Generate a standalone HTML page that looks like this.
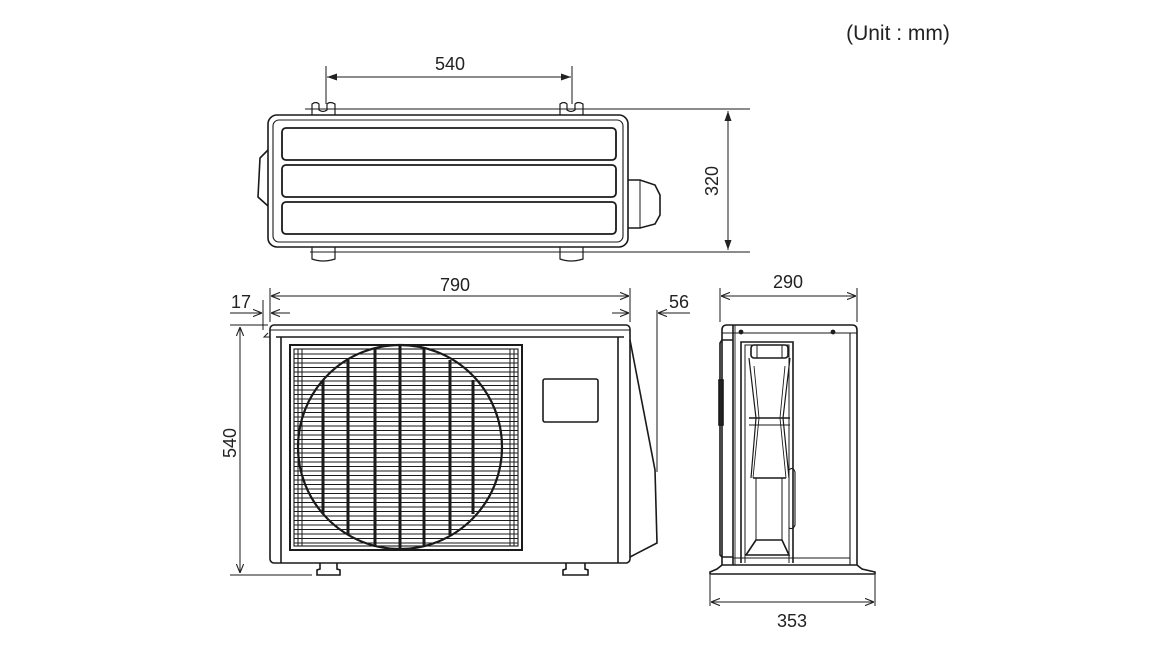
<!DOCTYPE html>
<html><head><meta charset="utf-8"><style>
html,body{margin:0;padding:0;background:#fff;}
svg{display:block;font-family:"Liberation Sans",Arial,sans-serif;}
</style></head><body>
<svg width="1170" height="649" viewBox="0 0 1170 649" xmlns="http://www.w3.org/2000/svg">
<defs>
<marker id="a" viewBox="0 0 10 10" refX="10" refY="5" markerWidth="9" markerHeight="9" orient="auto-start-reverse"><path d="M0,1 L10,5 L0,9" fill="none" stroke="#222" stroke-width="1.2"/></marker>
<marker id="f" viewBox="0 0 10 10" refX="10" refY="5" markerWidth="10" markerHeight="10" orient="auto-start-reverse"><path d="M0,1.5 L10,5 L0,8.5 z" fill="#222"/></marker>
</defs>
<rect width="1170" height="649" fill="#fff"/>
<text x="898" y="40" font-size="21" text-anchor="middle" fill="#222">(Unit : mm)</text>

<g stroke="#1a1a1a" fill="none" stroke-width="1.6">
<!-- TOP VIEW -->
<line x1="326" y1="66" x2="326" y2="104" stroke-width="1"/>
<line x1="572" y1="66" x2="572" y2="104" stroke-width="1"/>
<line x1="327" y1="77" x2="571" y2="77" marker-start="url(#f)" marker-end="url(#f)" stroke-width="1"/>
<line x1="305" y1="109" x2="750" y2="109" stroke-width="1"/>
<line x1="310" y1="252" x2="750" y2="252" stroke-width="1"/>
<line x1="728" y1="111" x2="728" y2="250" marker-start="url(#f)" marker-end="url(#f)" stroke-width="1"/>
<path d="M268,150 L260,158 L258,197 L268,206"/>
<path d="M628,180 L640,180 L655,185 L660,195 L660,215 L655,224 L640,228 L628,228"/>
<line x1="640" y1="180" x2="640" y2="228" stroke-width="1"/>
<rect x="268" y="115" width="360" height="132" rx="9"/>
<rect x="273" y="120" width="350" height="122" rx="6" stroke-width="1.1"/>
<rect x="282" y="128" width="334" height="32" rx="4" stroke-width="1.8"/>
<rect x="282" y="165" width="334" height="32" rx="4" stroke-width="1.8"/>
<rect x="282" y="202" width="334" height="32" rx="4" stroke-width="1.8"/>
<g stroke-width="1.2">
<path d="M312,115 L312,104 Q316,101 319,104 L319,110 Q323,113 327,110 L327,104 Q330,101 335,104 L335,115"/>
<path d="M560,115 L560,104 Q564,101 567,104 L567,110 Q571,113 575,110 L575,104 Q578,101 583,104 L583,115"/>
<path d="M312,247 L312,259 Q323,263 335,259 L335,247"/>
<path d="M560,247 L560,259 Q571,263 583,259 L583,247"/>
</g>

<!-- FRONT VIEW -->
<line x1="270" y1="288" x2="270" y2="322" stroke-width="1"/>
<line x1="630" y1="288" x2="630" y2="322" stroke-width="1"/>
<line x1="271" y1="296" x2="629" y2="296" marker-start="url(#a)" marker-end="url(#a)" stroke-width="1"/>
<line x1="263" y1="300" x2="263" y2="330" stroke-width="1"/>
<line x1="230" y1="313" x2="262" y2="313" marker-end="url(#a)" stroke-width="1"/>
<line x1="290" y1="313" x2="271" y2="313" marker-end="url(#a)" stroke-width="1"/>
<line x1="612" y1="313" x2="629" y2="313" marker-end="url(#a)" stroke-width="1"/>
<line x1="690" y1="313" x2="658" y2="313" marker-end="url(#a)" stroke-width="1"/>
<line x1="657" y1="310" x2="657" y2="472" stroke-width="1"/>
<line x1="230" y1="325" x2="268" y2="325" stroke-width="1"/>
<line x1="230" y1="575" x2="312" y2="575" stroke-width="1"/>
<line x1="240" y1="327" x2="240" y2="573" marker-start="url(#a)" marker-end="url(#a)" stroke-width="1"/>
<rect x="270" y="325" width="360" height="238" rx="4"/>
<line x1="270" y1="330" x2="630" y2="330" stroke-width="1.1"/>
<line x1="276" y1="337" x2="624" y2="337"/>
<line x1="281" y1="337" x2="281" y2="563"/>
<line x1="618" y1="337" x2="618" y2="563"/>
<path d="M630,340 L655,470 L657,543 L630,557"/>
<path d="M268,333 L264,337 L270,337" stroke-width="1"/>
<rect x="290" y="345" width="232" height="205" stroke-width="2"/>
<rect x="294" y="349" width="224" height="197" stroke-width="1.1"/>
<g stroke-width="1">
<line x1="294" y1="354" x2="518" y2="354"/><line x1="294" y1="358.5" x2="518" y2="358.5"/><line x1="294" y1="363" x2="518" y2="363"/><line x1="294" y1="367.5" x2="518" y2="367.5"/><line x1="294" y1="372" x2="518" y2="372"/><line x1="294" y1="376.5" x2="518" y2="376.5"/><line x1="294" y1="381" x2="518" y2="381"/><line x1="294" y1="385.5" x2="518" y2="385.5"/><line x1="294" y1="390" x2="518" y2="390"/><line x1="294" y1="394.5" x2="518" y2="394.5"/><line x1="294" y1="399" x2="518" y2="399"/><line x1="294" y1="403.5" x2="518" y2="403.5"/><line x1="294" y1="408" x2="518" y2="408"/><line x1="294" y1="412.5" x2="518" y2="412.5"/><line x1="294" y1="417" x2="518" y2="417"/><line x1="294" y1="421.5" x2="518" y2="421.5"/><line x1="294" y1="426" x2="518" y2="426"/><line x1="294" y1="430.5" x2="518" y2="430.5"/><line x1="294" y1="435" x2="518" y2="435"/><line x1="294" y1="439.5" x2="518" y2="439.5"/><line x1="294" y1="444" x2="518" y2="444"/><line x1="294" y1="448.5" x2="518" y2="448.5"/><line x1="294" y1="453" x2="518" y2="453"/><line x1="294" y1="457.5" x2="518" y2="457.5"/><line x1="294" y1="462" x2="518" y2="462"/><line x1="294" y1="466.5" x2="518" y2="466.5"/><line x1="294" y1="471" x2="518" y2="471"/><line x1="294" y1="475.5" x2="518" y2="475.5"/><line x1="294" y1="480" x2="518" y2="480"/><line x1="294" y1="484.5" x2="518" y2="484.5"/><line x1="294" y1="489" x2="518" y2="489"/><line x1="294" y1="493.5" x2="518" y2="493.5"/><line x1="294" y1="498" x2="518" y2="498"/><line x1="294" y1="502.5" x2="518" y2="502.5"/><line x1="294" y1="507" x2="518" y2="507"/><line x1="294" y1="511.5" x2="518" y2="511.5"/><line x1="294" y1="516" x2="518" y2="516"/><line x1="294" y1="520.5" x2="518" y2="520.5"/><line x1="294" y1="525" x2="518" y2="525"/><line x1="294" y1="529.5" x2="518" y2="529.5"/><line x1="294" y1="534" x2="518" y2="534"/><line x1="294" y1="538.5" x2="518" y2="538.5"/><line x1="294" y1="543" x2="518" y2="543"/>
<line x1="298" y1="349" x2="298" y2="546"/><line x1="302" y1="349" x2="302" y2="546"/><line x1="510" y1="349" x2="510" y2="546"/><line x1="514" y1="349" x2="514" y2="546"/>
</g>
<circle cx="400" cy="447" r="102" stroke-width="2.2"/>
<g stroke-width="3">
<line x1="323" y1="380" x2="323" y2="514"/><line x1="348" y1="360" x2="348" y2="535"/><line x1="375" y1="348" x2="375" y2="547"/><line x1="400" y1="346" x2="400" y2="549"/><line x1="424" y1="348" x2="424" y2="547"/><line x1="450" y1="360" x2="450" y2="535"/><line x1="473" y1="380" x2="473" y2="514"/>
</g>
<rect x="543" y="379" width="55" height="43" rx="2"/>
<path d="M320,563 L320,569 L317,570 L317,575 L340,575 L340,570 L337,569 L337,563"/>
<path d="M566,563 L566,569 L563,570 L563,575 L588,575 L588,570 L585,569 L585,563"/>

<!-- SIDE VIEW -->
<line x1="720" y1="288" x2="720" y2="322" stroke-width="1"/>
<line x1="857" y1="288" x2="857" y2="322" stroke-width="1"/>
<line x1="721" y1="296" x2="856" y2="296" marker-start="url(#a)" marker-end="url(#a)" stroke-width="1"/>
<line x1="710" y1="575" x2="710" y2="606" stroke-width="1"/>
<line x1="875" y1="575" x2="875" y2="606" stroke-width="1"/>
<line x1="711" y1="602" x2="874" y2="602" marker-start="url(#a)" marker-end="url(#a)" stroke-width="1"/>
<path d="M722,565 L722,330 Q722,325 727,325 L852,325 Q857,325 857,330 L857,565"/>
<line x1="722" y1="333" x2="857" y2="333" stroke-width="1.1"/>
<line x1="733" y1="325" x2="733" y2="565"/>
<line x1="735" y1="325" x2="735" y2="565" stroke-width="0.9"/>
<line x1="850" y1="333" x2="850" y2="565" stroke-width="1.1"/>
<path d="M733,340 L722,340 L720,343 L720,555 L722,557 L733,557"/>
<rect x="719" y="380" width="4" height="45" fill="#222"/>
<circle cx="741" cy="332" r="1.6" fill="#222"/><circle cx="833" cy="332" r="1.6" fill="#222"/>
<path d="M741,563 L741,342 L793,342 L793,563"/>
<path d="M745,563 L745,345 L789,345 L789,563" stroke-width="1"/>
<rect x="751" y="345" width="37" height="13" rx="3"/>
<line x1="757" y1="345" x2="757" y2="358" stroke-width="1"/><line x1="782" y1="345" x2="782" y2="358" stroke-width="1"/>
<path d="M749,358 L756,418 L751,478 M790,358 L783,418 L789,478" stroke-width="1.2"/>
<path d="M754,366 L759,418 L753,478 M785,366 L780,418 L786,478" stroke-width="0.9"/>
<line x1="749" y1="418" x2="790" y2="418"/><line x1="749" y1="425" x2="790" y2="425" stroke-width="1.1"/>
<line x1="753" y1="478" x2="786" y2="478"/>
<line x1="756" y1="478" x2="756" y2="540" stroke-width="1"/><line x1="782" y1="478" x2="782" y2="540" stroke-width="1"/>
<path d="M756,540 L746,555 L789,555 L782,540 Z"/>
<path d="M789,470 Q793,466 795,472 L795,525 Q793,530 789,528" stroke-width="1.1"/>
<line x1="733" y1="558" x2="850" y2="558" stroke-width="1.1"/>
<path d="M722,565 L857,565 L862,569 L875,572 L875,574 L710,574 L710,572 L717,569 Z"/>
</g>

<g font-size="18" fill="#222" text-anchor="middle">
<text x="450" y="70">540</text>
<text transform="translate(718,181) rotate(-90)">320</text>
<text x="455" y="291">790</text>
<text x="241" y="308">17</text>
<text x="679" y="308">56</text>
<text transform="translate(236,443) rotate(-90)">540</text>
<text x="788" y="288">290</text>
<text x="792" y="627">353</text>
</g>
</svg>
</body></html>
